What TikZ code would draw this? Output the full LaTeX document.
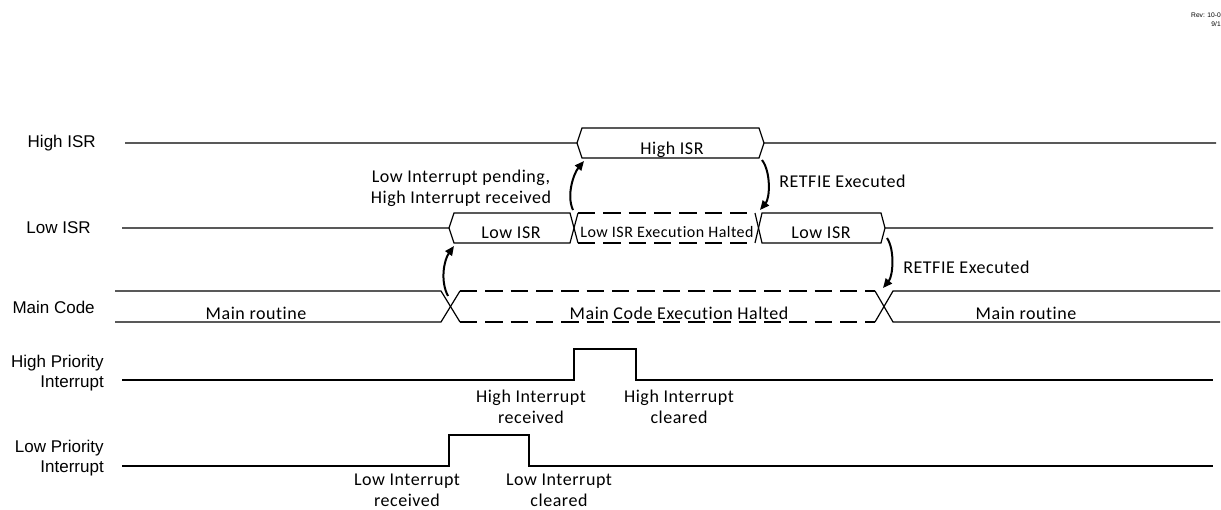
\documentclass[tikz,border=0pt]{standalone}
\usepackage{fontspec}
\setmainfont{Carlito}[LetterSpace=3, Ligatures=NoCommon]
\newfontfamily\arial{Liberation Sans}
\usetikzlibrary{arrows.meta}

\tikzset{
  sig/.style={line width=0.9pt},
  halt/.style={sig, dash pattern=on 13pt off 6pt},
  txt/.style={font=\fontsize{13.5}{16}\selectfont, inner sep=0pt, align=center},
  small/.style={font=\fontsize{12}{14}\selectfont, inner sep=0pt},
  lbl/.style={font=\arial\fontsize{12.75}{15}\selectfont, inner sep=0pt, align=right, anchor=east},
  evt/.style={-{Triangle[length=7pt,width=6pt]}, line width=1.5pt},
}

\begin{document}
\begin{tikzpicture}[x=0.75pt,y=-0.75pt]
  \useasboundingbox (0,0) rectangle (1221,510);

  % revision note
  \node[font=\arial\fontsize{5}{6}\selectfont, inner sep=0pt, anchor=east] (rev) at (1221,15) {Rev: 10-0};
  \node[font=\arial\fontsize{5}{6}\selectfont, inner sep=0pt, anchor=east] (date) at (1221,24) {9/1};

  % row labels
  \node[lbl] (lHigh) at (96,143) {High ISR};
  \node[lbl] (lLow) at (91,228) {Low ISR};
  \node[lbl] (lMain) at (95,307) {Main Code};
  \node[lbl] (lHP) at (104,373) {High Priority\\Interrupt};
  \node[lbl] (lLP) at (104,458) {Low Priority\\Interrupt};

  % High ISR
  \draw[sig] (125,143) -- (577,143) -- (582,128) -- (759,128) -- (764,143) -- (1216,143);
  \draw[sig] (577,143) -- (582,158) -- (759,158) -- (764,143);
  \node[txt] (hisr) at (672,150) {High ISR};

  % Low ISR
  \draw[sig] (122,228) -- (449,228) -- (454,213) -- (570,213) -- (578,243);
  \draw[sig] (449,228) -- (454,243) -- (570,243) -- (578,213);
  \draw[halt] (578,213) -- (755,213);
  \draw[halt] (578,243) -- (755,243);
  \draw[sig] (755,213) -- (762,243) -- (881,243) -- (885,228) -- (1213,228);
  \draw[sig] (755,243) -- (762,213) -- (881,213) -- (885,228);
  \node[txt] (lisrA) at (511,233) {Low ISR};
  \node[small] (lisrH) at (667,232) {Low ISR Execution Halted};
  \node[txt] (lisrB) at (821,233) {Low ISR};

  % Main Code
  \draw[sig] (115,291) -- (441,291) -- (460,322);
  \draw[sig] (115,322) -- (441,322) -- (460,291);
  \draw[halt] (460,291) -- (875,291);
  \draw[halt] (460,322) -- (875,322);
  \draw[sig] (875,291) -- (893,322) -- (1220,322);
  \draw[sig] (875,322) -- (893,291) -- (1220,291);
  \node[txt] (mainA) at (256,313) {Main routine};
  \node[txt] (mainH) at (679,313) {Main Code Execution Halted};
  \node[txt] (mainB) at (1026,313) {Main routine};

  % interrupt flags
  \draw[sig] (122,380) -- (574,380) -- (574,349) -- (636,349) -- (636,380) -- (1213,380);
  \draw[sig] (122,466) -- (449,466) -- (449,435) -- (529,435) -- (529,466) -- (1213,466);
  \node[txt] (hRecv) at (531,407) {High Interrupt\\received};
  \node[txt] (hClr) at (679,407) {High Interrupt\\cleared};
  \node[txt] (lRecv) at (407,490) {Low Interrupt\\received};
  \node[txt] (lClr) at (559,490) {Low Interrupt\\cleared};

  % events
  \coordinate (A) at (448,296);
  \coordinate (B) at (454,246);
  \coordinate (C) at (573,210);
  \coordinate (D) at (584,161);
  \coordinate (E) at (762,160);
  \coordinate (F) at (760,210);
  \coordinate (G) at (887,238);
  \coordinate (H) at (883,288);
  \draw[evt] (A) .. controls +(-8,-15) and +(-10,14) .. (B);
  \draw[evt] (C) .. controls +(-7,-15) and +(-10,12) .. (D);
  \draw[evt] (E) .. controls +(9,12) and +(10,-12) .. (F);
  \draw[evt] (G) .. controls +(8,12) and +(10,-12) .. (H);
  \node[txt] (pend) at (461,188) {Low Interrupt pending,\\High Interrupt received};
  \node[txt, anchor=west] (retA) at (779,181) {RETFIE Executed};
  \node[txt, anchor=west] (retB) at (903,267) {RETFIE Executed};
\end{tikzpicture}
\end{document}
